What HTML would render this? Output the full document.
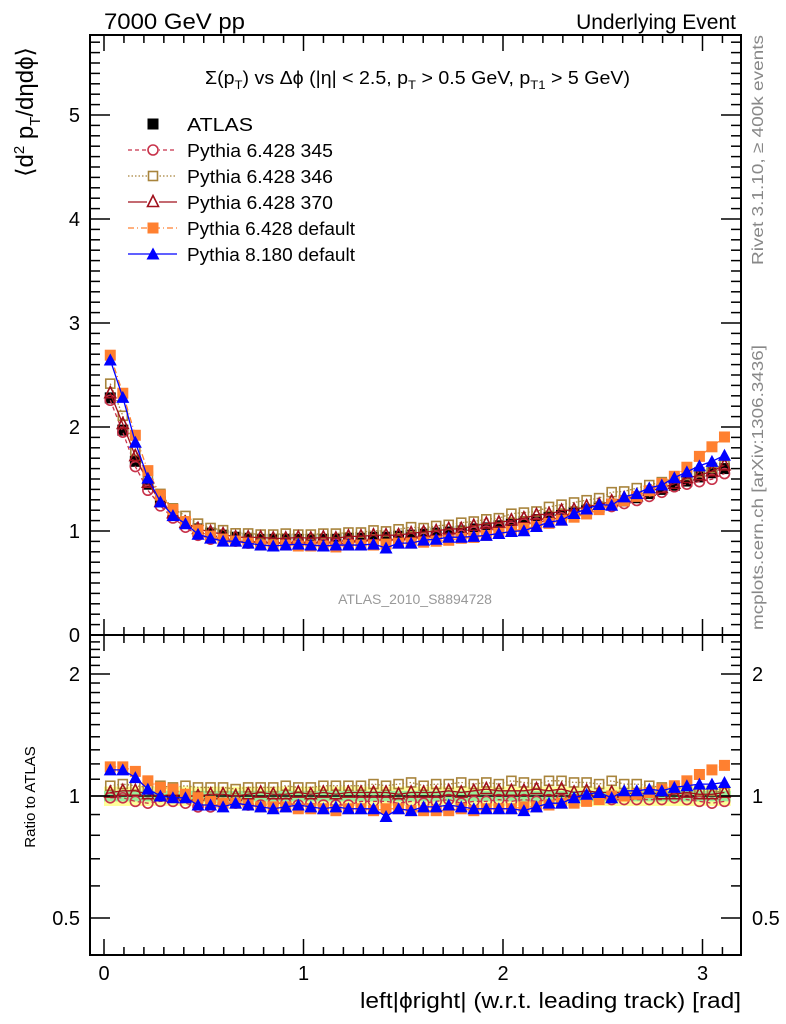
<!DOCTYPE html>
<html><head><meta charset="utf-8"><style>
html,body{margin:0;padding:0;background:#fff;}
svg{display:block;font-family:"Liberation Sans",sans-serif;}
</style></head><body>
<svg id="chart" width="786" height="1024" viewBox="0 0 786 1024">
<text x="104" y="29" font-size="22" textLength="141" lengthAdjust="spacingAndGlyphs">7000 GeV pp</text>
<text x="736" y="29" font-size="21" text-anchor="end">Underlying Event</text>
<text x="205" y="84" font-size="18" textLength="425" lengthAdjust="spacingAndGlyphs">Σ(p<tspan font-size="12" dy="5">T</tspan><tspan dy="-5">) vs Δϕ (|η| &lt; 2.5, p</tspan><tspan font-size="12" dy="5">T</tspan><tspan dy="-5"> &gt; 0.5 GeV, p</tspan><tspan font-size="12" dy="5">T1</tspan><tspan dy="-5"> &gt; 5 GeV)</tspan></text>
<text transform="translate(33,112) rotate(-90)" font-size="24" text-anchor="middle">⟨d<tspan font-size="15" dy="-9">2</tspan><tspan dy="9"> p</tspan><tspan font-size="15" dy="7">T</tspan><tspan dy="-7">/dηdϕ⟩</tspan></text>
<text transform="translate(35,797) rotate(-90)" font-size="15" text-anchor="middle">Ratio to ATLAS</text>
<text x="741" y="1008" font-size="22" text-anchor="end" textLength="381" lengthAdjust="spacingAndGlyphs">left|ϕright| (w.r.t. leading track) [rad]</text>
<text transform="translate(763,265) rotate(-90)" font-size="16" fill="#888" textLength="230" lengthAdjust="spacingAndGlyphs">Rivet 3.1.10, ≥ 400k events</text>
<text transform="translate(763,630) rotate(-90)" font-size="16" fill="#888" textLength="285" lengthAdjust="spacingAndGlyphs">mcplots.cern.ch [arXiv:1306.3436]</text>
<text x="415" y="604" font-size="14" fill="#999" text-anchor="middle">ATLAS_2010_S8894728</text>
<g id="layer"></g>
</svg>
<script>
const atlas=[2.28,1.97,1.67,1.45,1.28,1.16,1.08,1.02,0.98,0.96,0.94,0.93,0.92,0.92,0.92,0.92,0.92,0.92,0.92,0.93,0.93,0.94,0.94,0.95,0.96,0.97,0.98,0.99,1.00,1.02,1.03,1.05,1.07,1.09,1.11,1.13,1.15,1.18,1.20,1.23,1.26,1.29,1.32,1.36,1.40,1.44,1.48,1.52,1.56,1.60];
const r345=[0.99,0.99,0.97,0.96,0.97,0.97,0.96,0.94,0.94,0.96,0.96,0.95,0.95,0.96,0.96,0.95,0.96,0.95,0.95,0.95,0.97,0.97,0.97,0.96,0.97,0.96,0.97,0.98,0.96,0.97,0.97,0.98,0.97,0.98,0.97,0.98,0.98,0.98,0.98,0.99,0.98,0.98,0.98,0.98,0.98,0.99,0.98,0.97,0.96,0.97];
const r346=[1.06,1.07,1.06,1.05,1.06,1.05,1.06,1.05,1.05,1.05,1.04,1.05,1.05,1.05,1.06,1.05,1.05,1.06,1.06,1.06,1.06,1.07,1.06,1.07,1.08,1.06,1.07,1.07,1.08,1.07,1.08,1.07,1.09,1.08,1.07,1.09,1.09,1.08,1.08,1.07,1.09,1.07,1.07,1.06,1.05,1.05,1.04,1.03,1.03,1.02];
const r370=[1.02,1.03,1.03,1.01,1.00,1.01,1.00,1.00,1.01,1.01,1.00,1.01,1.02,1.01,1.01,1.02,1.01,1.02,1.01,1.02,1.02,1.02,1.02,1.01,1.02,1.02,1.02,1.03,1.02,1.03,1.04,1.03,1.03,1.03,1.04,1.03,1.04,1.02,1.03,1.02,1.02,1.02,1.01,1.02,1.01,1.01,1.02,1.01,1.01,1.02];
const rdef=[1.18,1.18,1.15,1.09,1.05,1.04,1.01,0.99,0.97,0.96,0.96,0.95,0.94,0.94,0.94,0.93,0.93,0.93,0.92,0.93,0.93,0.92,0.93,0.93,0.92,0.92,0.92,0.92,0.93,0.92,0.93,0.93,0.93,0.94,0.94,0.95,0.96,0.96,0.97,0.98,1.00,1.00,1.01,1.02,1.04,1.06,1.09,1.13,1.16,1.19];
const r8=[1.16,1.16,1.11,1.04,1.00,0.99,0.99,0.95,0.95,0.94,0.96,0.95,0.94,0.93,0.94,0.95,0.94,0.93,0.94,0.93,0.93,0.93,0.89,0.93,0.92,0.94,0.94,0.95,0.94,0.93,0.93,0.93,0.93,0.92,0.94,0.96,0.96,0.99,1.01,1.02,0.99,1.03,1.03,1.04,1.03,1.05,1.06,1.07,1.07,1.08];
const yellowErr=0.055, greenErr=0.03;
const xTicks=[0,1,2,3], yTicks=[0,1,2,3,4,5], rTicks=[0.5,1,2];

const NS="http://www.w3.org/2000/svg", L=document.getElementById('layer');
const X0=90,X1=741,T=35,B=635,RB=955;
const sx=v=>104+v*199.5, sy=v=>635-v*104, sr=v=>796-Math.log2(v)*122;
const N=atlas.length, w=Math.PI/N, xs=atlas.map((_,i)=>(i+0.5)*w);
function mk(t,a,p){const e=document.createElementNS(NS,t);for(const k in a)e.setAttribute(k,a[k]);(p||L).appendChild(e);return e;}
const cl=mk('clipPath',{id:'rc'});mk('rect',{x:X0,y:T,width:X1-X0,height:B-T},cl);
const cr=mk('clipPath',{id:'rr'});mk('rect',{x:X0,y:B,width:X1-X0,height:RB-B},cr);
const yb=mk('rect',{x:sx(0),y:sr(1+yellowErr),width:sx(Math.PI)-sx(0),height:sr(1-yellowErr)-sr(1+yellowErr),fill:'#ffff99'});

const gb=mk('rect',{x:sx(0),y:sr(1+greenErr),width:sx(Math.PI)-sx(0),height:sr(1-greenErr)-sr(1+greenErr),fill:'#99ee99'});

const one=mk('line',{x1:X0,x2:X1,y1:sr(1),y2:sr(1),stroke:'#000','stroke-width':1.5});


function marker(g,type,x,y,c){
 const s=5.5;
 if(type==='sq')mk('rect',{x:x-s,y:y-s,width:2*s,height:2*s,fill:c},g);
 else if(type==='osq')mk('rect',{x:x-s+1,y:y-s+1,width:2*s-2,height:2*s-2,fill:'none',stroke:c,'stroke-width':1.6},g);
 else if(type==='oc')mk('circle',{cx:x,cy:y,r:s-0.5,fill:'none',stroke:c,'stroke-width':1.6},g);
 else if(type==='otri')mk('polygon',{points:`${x},${y-s-1} ${x-s},${y+s-1} ${x+s},${y+s-1}`,fill:'none',stroke:c,'stroke-width':1.6},g);
 else if(type==='tri')mk('polygon',{points:`${x},${y-s-1} ${x-s-1},${y+s} ${x+s+1},${y+s}`,fill:c},g);
}
const series=[
 {name:'atlas',r:null,c:'#000',m:'sq',dash:null},
 {name:'pythia-6428-345',r:r345,c:'#c8324a',m:'oc',dash:'4,3'},
 {name:'pythia-6428-346',r:r346,c:'#a8843c',m:'osq',dash:'1.5,2'},
 {name:'pythia-6428-370',r:r370,c:'#a0101c',m:'otri',dash:null},
 {name:'pythia-6428-default',r:rdef,c:'#ff8030',m:'sq',dash:'6,3,1,3'},
 {name:'pythia-8180-default',r:r8,c:'#0000ff',m:'tri',dash:null}];
series.forEach(s=>{
 const g=mk('g',{'clip-path':'url(#rc)'});
 
 
 const vals=atlas.map((a,i)=>s.r?a*s.r[i]:a);
 if(s.r){const p=mk('polyline',{points:vals.map((v,i)=>sx(xs[i])+','+sy(v)).join(' '),fill:'none',stroke:s.c,'stroke-width':1.3},g);if(s.dash)p.setAttribute('stroke-dasharray',s.dash);}
 vals.forEach((v,i)=>marker(g,s.m,sx(xs[i]),sy(v),s.c));
 if(s.r){
  const g2=mk('g',{'clip-path':'url(#rr)'});
  
  
  const p=mk('polyline',{points:s.r.map((v,i)=>sx(xs[i])+','+sr(v)).join(' '),fill:'none',stroke:s.c,'stroke-width':1.3},g2);if(s.dash)p.setAttribute('stroke-dasharray',s.dash);
  s.r.forEach((v,i)=>marker(g2,s.m,sx(xs[i]),sr(v),s.c));
 }
});
[[T,B],[B,RB]].forEach(([a,b],k)=>{const f=mk('rect',{x:X0,y:a,width:X1-X0,height:b-a,fill:'none',stroke:'#000','stroke-width':2});
 });
const ax=mk('g',{stroke:'#000','stroke-width':1.5});

for(let i=0;i<=31;i++){const v=i/10,x=sx(v),maj=i%10===0,len=maj?16:8;
 [T,B].forEach(y=>{mk('line',{x1:x,x2:x,y1:y,y2:y+len},ax);mk('line',{x1:x,x2:x,y1:y,y2:y-(y===B?len:0)},ax);});
 mk('line',{x1:x,x2:x,y1:RB,y2:RB-len},ax);}
for(let i=0;i<=57;i++){const v=i/10,y=sy(v),maj=i%10===0,len=maj?20:10;if(y<T)continue;
 mk('line',{x1:X0,x2:X0+len,y1:y,y2:y},ax);mk('line',{x1:X1,x2:X1-len,y1:y,y2:y},ax);}
for(let i=5;i<=25;i++){const v=i/10,y=sr(v);if(y<B||y>RB)continue;const maj=(i===5||i===10||i===20),len=maj?20:10;
 mk('line',{x1:X0,x2:X0+len,y1:y,y2:y},ax);mk('line',{x1:X1,x2:X1-len,y1:y,y2:y},ax);}
xTicks.forEach(v=>{const t=mk('text',{x:sx(v),y:980,'font-size':20,'text-anchor':'middle'});t.textContent=v;
 });
yTicks.forEach(v=>{const t=mk('text',{x:80,y:sy(v)+7,'font-size':20,'text-anchor':'end'});t.textContent=v;
 });
rTicks.forEach(v=>{[[80,'end'],[752,'start']].forEach(([x,a])=>{const t=mk('text',{x:x,y:sr(v)+7,'font-size':20,'text-anchor':a});t.textContent=v;
 });});
const labels=['ATLAS','Pythia 6.428 345','Pythia 6.428 346','Pythia 6.428 370','Pythia 6.428 default','Pythia 8.180 default'];
const lens=[66,146,146,146,168,168];
series.forEach((s,i)=>{const y=124+i*26;const g=mk('g',{});
 
 if(s.r){const l=mk('line',{x1:128,x2:177,y1:y,y2:y,stroke:s.c,'stroke-width':1.3},g);if(s.dash)l.setAttribute('stroke-dasharray',s.dash);
  if(s.m[0]==='o')mk('rect',{x:147,y:y-6,width:12,height:12,fill:'#fff'},g);}
 marker(g,s.m,153,y,s.c);
 const t=mk('text',{x:187,y:y+7,'font-size':18,textLength:lens[i],lengthAdjust:'spacingAndGlyphs'},g);t.textContent=labels[i];});
</script>
</body></html>
